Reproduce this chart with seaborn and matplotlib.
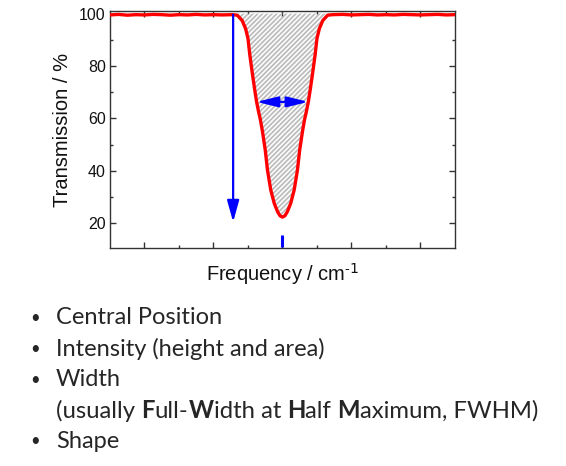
import numpy as np
import matplotlib
matplotlib.use("Agg")
import matplotlib.pyplot as plt
from matplotlib.ticker import FixedLocator, MultipleLocator
import seaborn as sns

# --------------------------------------------------------------------------------
# Data (frequency in arbitrary units, transmission in %)
# --------------------------------------------------------------------------------

freq = [0.00, 0.25, 0.50, 0.75, 1.00, 1.25, 1.50, 1.75, 2.00, 2.25, 2.50, 2.75, 3.00, 3.25, 3.55,
        3.69, 3.83, 3.93, 4.00, 4.055, 4.12, 4.19, 4.25, 4.30, 4.36, 4.42, 4.50, 4.565, 4.66, 4.76, 4.86, 4.93,
        5.00,
        5.07, 5.14, 5.24, 5.34, 5.435, 5.50, 5.58, 5.64, 5.70, 5.75, 5.81, 5.88, 5.945, 6.00, 6.07, 6.17, 6.31,
        6.45, 6.75, 7.00, 7.25, 7.50, 7.75, 8.00, 8.25, 8.50, 8.75, 9.00, 9.25, 9.50, 9.75, 10.00]

trans = [99.5, 99.7, 99.4, 99.6, 99.5, 99.7, 99.6, 99.4, 99.6, 99.5, 99.7, 99.5, 99.6, 99.5, 99.6,
         99.4, 97.4, 94.3, 90.5, 84.1, 77.8, 71.4, 66.3, 63.0, 59.5, 55.0, 48.0, 40.3, 32.7, 27.6, 24.3, 22.8,
         22.3,
         22.8, 24.3, 27.6, 32.7, 40.3, 48.0, 55.0, 59.5, 63.0, 66.3, 71.4, 77.8, 84.1, 90.5, 94.3, 97.4, 99.4,
         99.6, 99.7, 99.5, 99.6, 99.7, 99.5, 99.6, 99.5, 99.7, 99.6, 99.5, 99.6, 99.7, 99.5, 99.6]

# annotation values
intensity_x = 3.57
intensity_top = 99.6
intensity_bottom = 20.4
fwhm_level = 66.3
fwhm_left = 4.25
fwhm_right = 5.75

bullets = ["Central Position", "Intensity (height and area)", "Width", None, "Shape"]
fwhm_parts = [("(usually ", "normal"), ("F", "bold"), ("ull-", "normal"), ("W", "bold"),
              ("idth at ", "normal"), ("H", "bold"), ("alf ", "normal"), ("M", "bold"),
              ("aximum, FWHM)", "normal")]

# --------------------------------------------------------------------------------
# Figure
# --------------------------------------------------------------------------------

sns.set_theme(style="ticks")
plt.rcParams["font.family"] = ["Liberation Sans", "DejaVu Sans"]
plt.rcParams["hatch.linewidth"] = 1.3

df_x = np.array(freq)
df_y = np.array(trans)

fig = plt.figure(figsize=(5.66, 4.66), dpi=100)
ax = fig.add_axes([0.1943, 0.4678, 0.6095, 0.5086])

# hatched area under the band
band = df_y < 99.45
band[np.argmax(band) - 1] = True
band[len(band) - 1 - np.argmax(band[::-1]) + 1] = True
ax.fill_between(df_x, df_y, 100, where=band, facecolor="none", edgecolor="#bdbdbd",
                hatch="///////", linewidth=0, zorder=1)

sns.lineplot(x=df_x, y=df_y, color="#ff0000", linewidth=2.4, ax=ax, sort=False, zorder=3)

# intensity arrow
ax.annotate("", xy=(intensity_x, intensity_bottom), xytext=(intensity_x, intensity_top),
            arrowprops=dict(arrowstyle="-|>,head_length=0.65,head_width=0.18", color="#0000ff",
                            lw=1.6, shrinkA=0, shrinkB=0, mutation_scale=20), zorder=4)

# width arrow
ax.annotate("", xy=(fwhm_left, fwhm_level), xytext=(fwhm_right, fwhm_level),
            arrowprops=dict(arrowstyle="<|-|>,head_length=0.65,head_width=0.16", color="#0000ff",
                            lw=1.6, shrinkA=0, shrinkB=0, mutation_scale=20), zorder=4)

# central position mark
peak_x = df_x[np.argmin(df_y)]
ax.plot([peak_x, peak_x], [11.0, 15.5], color="#0000ff", lw=2.2, solid_capstyle="butt", zorder=4)

ax.set_xlim(0, 10)
ax.set_ylim(10.5, 101)
ax.xaxis.set_major_locator(FixedLocator([1, 3, 5, 7, 9]))
ax.xaxis.set_minor_locator(FixedLocator([2, 4, 6, 8]))
ax.yaxis.set_major_locator(MultipleLocator(20))
ax.yaxis.set_minor_locator(MultipleLocator(10))
ax.set_xticklabels([])
ax.tick_params(which="both", direction="in", top=True, right=True, color="#333333", width=1)
ax.tick_params(which="major", length=4)
ax.tick_params(which="minor", length=2.5)
ax.tick_params(axis="y", labelsize=11.5, pad=3, labelcolor="#111111")
for s in ax.spines.values():
    s.set_color("#333333")
    s.set_linewidth(1)

ax.set_ylabel("Transmission / %", fontsize=14.5, color="#111111", labelpad=5)
ax.set_xlabel("Frequency / cm$^{\\mathregular{\u2010}1}$", fontsize=14.5, color="#111111", labelpad=6)

# --------------------------------------------------------------------------------
# Bullet list
# --------------------------------------------------------------------------------

txt_font = ["Lato", "DejaVu Sans"]
line_y = [318, 349, 380, 411, 441]
for y_px, line in zip(line_y, bullets):
    yf = 1 - y_px / 466
    if line is not None:
        fig.text(30 / 566, yf, "\u2022", fontsize=12, family=txt_font, va="center", ha="left")
        fig.text(56 / 566, yf, line, fontsize=17, family=txt_font, va="center", ha="left")
    else:
        prev = fig.text(56 / 566, yf, fwhm_parts[0][0], fontsize=17.2, family=txt_font,
                        va="center", ha="left")
        for part, weight in fwhm_parts[1:]:
            prev = ax.annotate(part, xy=(1, 0), xycoords=prev, fontsize=17.2, family=txt_font,
                               weight=weight, va="bottom", ha="left", annotation_clip=False)

fig.savefig("out.png", dpi=100)
